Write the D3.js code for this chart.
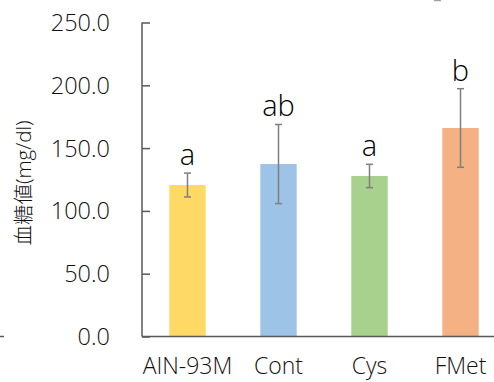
<!DOCTYPE html>
<html><head><meta charset="utf-8">
<script src="https://cdn.jsdelivr.net/npm/d3@7"></script>
<style>html,body{margin:0;padding:0;background:#fff;}</style>
</head><body>
<svg id="c" width="494" height="382"></svg>
<script>
const categories = ["AIN-93M", "Cont", "Cys", "FMet"];
const means = [120.6, 137.3, 127.8, 166.0];
const errors = [9.5, 31.5, 9.3, 31.3];
const letters = ["a", "ab", "a", "b"];
const colors = ["#FFD966", "#9DC3E6", "#A9D18E", "#F4B183"];
const yTicks = [0, 50, 100, 150, 200, 250];
const yTitle = "血糖値(mg/dl)";

const svg = d3.select("#c");
const font = "'Open Sans','Noto Sans CJK JP',sans-serif";
const x0 = 142, x1 = 506, yTop = 22.5, yBot = 336.5;
const x = d3.scaleBand().domain(categories).range([x0, x1]).paddingInner(0.6).paddingOuter(0.3);
const y = d3.scaleLinear().domain([0, 250]).range([yBot, yTop]);

// stray artifacts
svg.append("line").attr("x1",0).attr("x2",4).attr("y1",336.5).attr("y2",336.5).attr("stroke","#595959").attr("stroke-width",1.5);
svg.append("line").attr("x1",434).attr("x2",441).attr("y1",0.5).attr("y2",0.5).attr("stroke","#a0a0a0").attr("stroke-width",1.5);

// bars
svg.selectAll("rect.bar").data(means).enter().append("rect")
  .attr("x",(d,i)=>x(categories[i])).attr("width",x.bandwidth())
  .attr("y",d=>y(d)).attr("height",d=>yBot-y(d)).attr("fill",(d,i)=>colors[i]);

// error bars
const eb = svg.append("g").attr("stroke","#7f7f7f").attr("stroke-width",1.5);
means.forEach((m,i)=>{
  const cx = x(categories[i]) + x.bandwidth()/2;
  eb.append("line").attr("x1",cx).attr("x2",cx).attr("y1",y(m+errors[i])).attr("y2",y(m-errors[i]));
  [m+errors[i], m-errors[i]].forEach(v=>{
    eb.append("line").attr("x1",cx-3.5).attr("x2",cx+3.5).attr("y1",y(v)).attr("y2",y(v));
  });
  svg.append("text").attr("x",cx).attr("y",y(m+errors[i])-8).attr("text-anchor","middle")
    .attr("font-family",font).attr("font-weight",300).attr("font-size",29).attr("fill","#000").text(letters[i]);
});

// y axis
const yAxis = d3.axisRight(y).tickValues(yTicks).tickSize(8).tickFormat("");
const gy = svg.append("g").attr("transform",`translate(${x0},0)`).call(yAxis);
gy.select(".domain").remove();
gy.selectAll(".tick line").attr("stroke","#595959").attr("stroke-width",1.5);
svg.append("line").attr("x1",x0).attr("x2",x0).attr("y1",yTop).attr("y2",yBot).attr("stroke","#595959").attr("stroke-width",1.5);
svg.append("line").attr("x1",x0).attr("x2",494).attr("y1",yBot).attr("y2",yBot).attr("stroke","#595959").attr("stroke-width",1.5);
svg.selectAll("text.yt").data(yTicks).enter().append("text")
  .attr("x",110).attr("y",d=>y(d)+8.5).attr("text-anchor","end")
  .attr("font-family",font).attr("font-weight",300).attr("font-size",23.5).attr("fill","#111").text(d=>d3.format(".1f")(d));

// x labels
svg.selectAll("text.xl").data(categories).enter().append("text")
  .attr("x",d=>x(d)+x.bandwidth()/2).attr("y",374).attr("text-anchor","middle")
  .attr("font-family",font).attr("font-weight",300).attr("font-size",23).attr("fill","#111").text(d=>d);

// y title
svg.append("text").attr("transform","translate(31,183) rotate(-90)").attr("text-anchor","middle")
  .attr("font-family",font).attr("font-weight",300).attr("font-size",20.5).attr("fill","#111").text(yTitle);
</script>
</body></html>
